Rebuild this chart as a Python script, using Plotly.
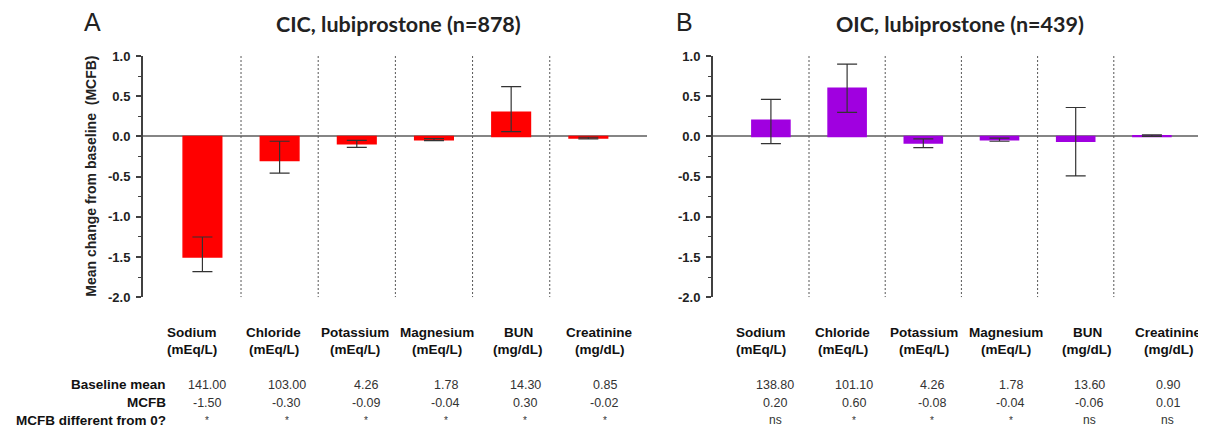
import plotly.graph_objects as go

W, H = 1206, 430

# ---------------- data ----------------
categories = ["Sodium", "Chloride", "Potassium", "Magnesium", "BUN", "Creatinine"]
units = ["(mEq/L)", "(mEq/L)", "(mEq/L)", "(mEq/L)", "(mg/dL)", "(mg/dL)"]

cic_baseline = [141.00, 103.00, 4.26, 1.78, 14.30, 0.85]
cic_mcfb = [-1.50, -0.30, -0.09, -0.04, 0.30, -0.02]
cic_err_plus = [0.25, 0.24, 0.04, 0.012, 0.32, 0.01]
cic_err_minus = [0.18, 0.155, 0.045, 0.012, 0.24, 0.01]
cic_sig = ["*", "*", "*", "*", "*", "*"]

oic_baseline = [138.80, 101.10, 4.26, 1.78, 13.60, 0.90]
oic_mcfb = [0.20, 0.60, -0.08, -0.04, -0.06, 0.01]
oic_err_plus = [0.26, 0.30, 0.05, 0.02, 0.42, 0.01]
oic_err_minus = [0.29, 0.30, 0.06, 0.02, 0.43, 0.01]
oic_sig = ["ns", "*", "*", "*", "ns", "ns"]

y_tickvals = [1.0, 0.5, 0.0, -0.5, -1.0, -1.5, -2.0]
y_ticktext = ["1.0", "0.5", "0.0", "-0.5", "-1.0", "-1.5", "-2.0"]

row_labels = ["Baseline mean", "MCFB", "MCFB different from 0?"]
panel_letters = ["A", "B"]
panel_titles = ["CIC, lubiprostone (n=878)", "OIC, lubiprostone (n=439)"]
y_title = "Mean change from baseline  (MCFB)"

RED = "#FF0000"
PURPLE = "#A000E0"
AXC = "#404040"
SHIFT_X = 8  # page offset compensation


def py(p):  # pixel y -> paper
    return 1 - p / H


def px(p):  # pixel x -> paper
    return (p - SHIFT_X) / W


fig = go.Figure()

panels = [
    dict(mcfb=cic_mcfb, ep=cic_err_plus, em=cic_err_minus, color=RED,
         xa="x", ya="y", base=cic_baseline, sig=cic_sig, lstep=1.055),
    dict(mcfb=oic_mcfb, ep=oic_err_plus, em=oic_err_minus, color=PURPLE,
         xa="x2", ya="y2", base=oic_baseline, sig=oic_sig, lstep=1.07),
]

for p in panels:
    fig.add_trace(go.Bar(
        x=categories, y=p["mcfb"], xaxis=p["xa"], yaxis=p["ya"],
        width=0.5, marker=dict(color=p["color"], line=dict(color=p["color"], width=1.5)),
        error_y=dict(type="data", symmetric=False, array=p["ep"], arrayminus=p["em"],
                     color="#333333", thickness=1.2, width=10),
        showlegend=False, hoverinfo="skip",
    ))

ydom = [py(292.5), py(42.5)]
axis_common = dict(
    range=[-2, 1], domain=ydom, showgrid=False,
    showline=True, linecolor=AXC, linewidth=2,
    ticks="outside", ticklen=5, tickwidth=1.5, tickcolor=AXC,
    tickvals=y_tickvals, ticktext=y_ticktext,
    tickfont=dict(family="Arial, Liberation Sans", size=13, color="#222", weight="bold"),
    minor=dict(dtick=0.25, ticks="outside", ticklen=3, tickwidth=1.2, tickcolor=AXC),
    zeroline=True, zerolinecolor="#858585", zerolinewidth=1.5,
    ticklabelstandoff=3,
)
xcommon = dict(type="category", showgrid=False, showline=False, zeroline=False,
               showticklabels=False, ticks="")

fig.update_layout(
    width=W, height=H, margin=dict(l=0, r=0, t=0, b=0),
    paper_bgcolor="white", plot_bgcolor="white",
    xaxis=dict(domain=[px(143), px(647)], range=[-0.77, 5.76], anchor="y", **xcommon),
    yaxis=dict(anchor="x", **axis_common),
    xaxis2=dict(domain=[px(713), 1.0], range=[-0.76, 5.815], anchor="y2", **xcommon),
    yaxis2=dict(anchor="x2", **axis_common),
    bargap=0.5,
)

# dotted separators between categories
for xa, ya in [("x", "y"), ("x2", "y2")]:
    for i in range(len(categories) - 1):
        fig.add_shape(type="line", xref=xa, yref=ya, x0=i + 0.5, x1=i + 0.5, y0=1.0, y1=-2.0,
                      line=dict(color="#555555", width=1, dash="2px,2px"))

ann = []
bold = dict(family="Arial, Liberation Sans", size=13.5, color="#111", weight="bold")
reg = dict(family="Arial, Liberation Sans", size=12.5, color="#333")

# panel letters and titles
for k, (lx, tx) in enumerate([(92.5, 398), (684, 960)]):
    ann.append(dict(text=panel_letters[k], xref="paper", yref="paper", x=px(lx), y=py(7),
                    xanchor="center", yanchor="middle", showarrow=False,
                    font=dict(family="Arial, Liberation Sans", size=25, color="#222")))
    ann.append(dict(text=panel_titles[k], xref="paper", yref="paper", x=px(tx), y=py(9),
                    xanchor="center", yanchor="middle", showarrow=False,
                    font=dict(family="Lato", size=21.5, color="#222", weight="bold")))

# y-axis title
ann.append(dict(text=y_title, xref="paper", yref="paper", x=px(91), y=py(167.5),
                xanchor="center", yanchor="middle", textangle=-90, showarrow=False,
                font=dict(family="Arial, Liberation Sans", size=14, color="#222", weight="bold")))

# table under the charts
for p in panels:
    for i, cat in enumerate(categories):
        lxp = i * p["lstep"] - 0.13
        vxp = i * 1.03 + 0.06
        ann.append(dict(text=cat, xref=p["xa"], yref="paper", x=lxp, y=py(328.5),
                        xanchor="center", yanchor="middle", showarrow=False, font=bold))
        ann.append(dict(text=units[i], xref=p["xa"], yref="paper", x=lxp, y=py(346.5),
                        xanchor="center", yanchor="middle", showarrow=False, font=bold))
        ann.append(dict(text=f"{p['base'][i]:.2f}", xref=p["xa"], yref="paper", x=vxp, y=py(383),
                        xanchor="center", yanchor="middle", showarrow=False, font=reg))
        ann.append(dict(text=f"{p['mcfb'][i]:.2f}", xref=p["xa"], yref="paper", x=vxp, y=py(402),
                        xanchor="center", yanchor="middle", showarrow=False, font=reg))
        ann.append(dict(text=p["sig"][i], xref=p["xa"], yref="paper", x=vxp, y=py(420),
                        xanchor="center", yanchor="middle", showarrow=False,
                        font=dict(family="Arial, Liberation Sans", size=12 if p["sig"][i] == "ns" else 10, color="#333")))

for r, yy in zip(row_labels, [383, 402, 420]):
    ann.append(dict(text=r, xref="paper", yref="paper", x=px(168), y=py(yy),
                    xanchor="right", yanchor="middle", showarrow=False, font=bold))

fig.update_layout(annotations=ann)
fig.write_html("out.html")
